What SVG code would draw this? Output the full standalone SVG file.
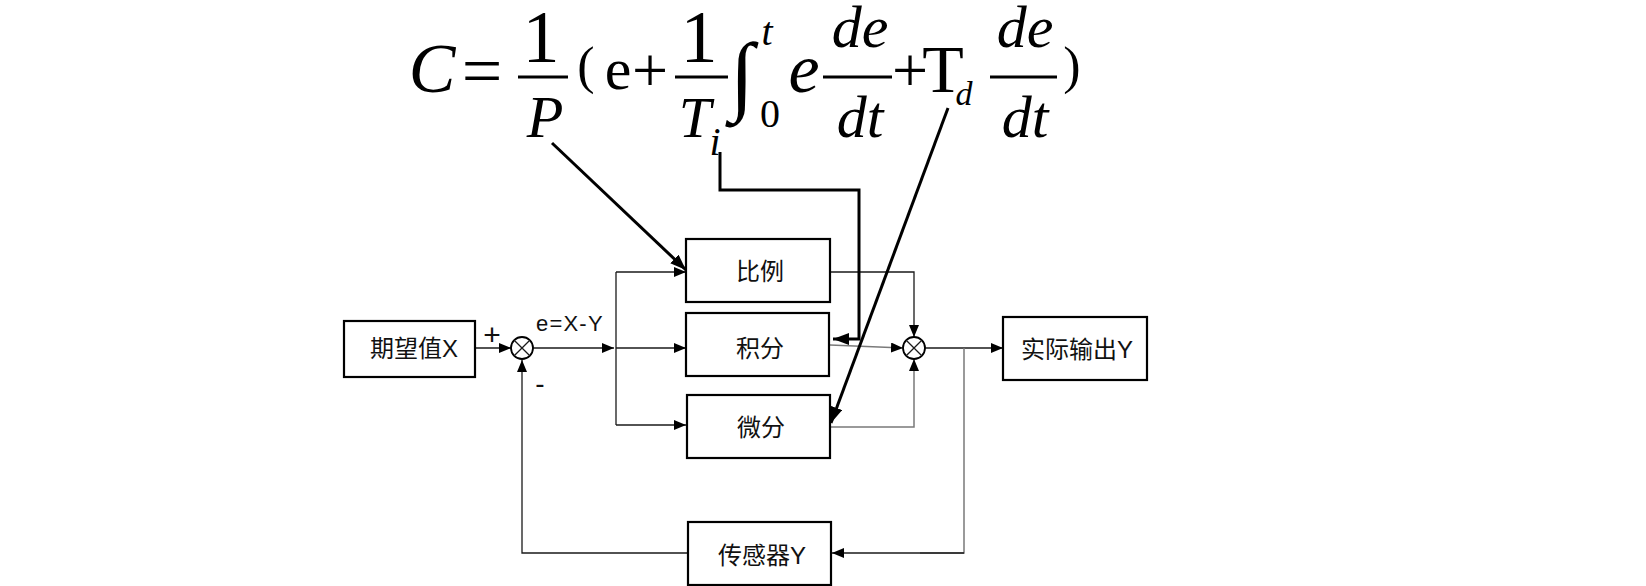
<svg xmlns="http://www.w3.org/2000/svg" width="1646" height="586" viewBox="0 0 1646 586">
<style>
.box{fill:#fff;stroke:#000;stroke-width:2.2}
.lbl{font-family:"Liberation Sans","Noto Sans CJK SC",sans-serif;font-size:24px;fill:#111;text-anchor:middle}
.thin{fill:none;stroke:#1a1a1a;stroke-width:1.3}
.gray{fill:none;stroke:#7a7a7a;stroke-width:1.5}
.thick{fill:none;stroke:#000;stroke-width:3}
.sum{fill:#fff;stroke:#000;stroke-width:1.8}
.fm{font-family:"Liberation Serif",serif;fill:#000;text-anchor:middle}
.it{font-style:italic}
.bar{stroke:#000;stroke-width:3}
.sign{font-family:"Liberation Sans",sans-serif;fill:#111}
</style>
<defs>
<marker id="a" markerUnits="userSpaceOnUse" markerWidth="12" markerHeight="10" refX="12" refY="5" orient="auto"><path d="M0,0 L12,5 L0,10 z" fill="#000"/></marker>
<marker id="b" markerUnits="userSpaceOnUse" markerWidth="16" markerHeight="12" refX="16" refY="6" orient="auto"><path d="M0,0 L16,6 L0,12 z" fill="#000"/></marker>
</defs>

<g id="formula">
<text class="fm it" x="432" y="92" font-size="70">C</text>
<text class="fm" x="482" y="95" font-size="72">=</text>
<text class="fm" x="541" y="62" font-size="74">1</text>
<line class="bar" x1="518" y1="77" x2="568" y2="77"/>
<text class="fm it" x="545" y="137" font-size="60">P</text>
<text class="fm" x="586" y="83" font-size="52">(</text>
<text class="fm" x="618" y="89" font-size="60">e</text>
<text class="fm" x="650" y="92" font-size="64">+</text>
<text class="fm" x="699" y="62" font-size="74">1</text>
<line class="bar" x1="675" y1="77" x2="728" y2="77"/>
<text class="fm it" x="695" y="137" font-size="58">T</text>
<text class="fm it" x="715" y="155" font-size="40">i</text>
<text class="fm it" x="742" y="104" font-size="88">∫</text>
<text class="fm it" x="767" y="45" font-size="40">t</text>
<text class="fm" x="770" y="127" font-size="40">0</text>
<text class="fm it" x="804" y="92" font-size="70">e</text>
<text class="fm it" x="860" y="47" font-size="60">de</text>
<line class="bar" x1="823" y1="77" x2="892" y2="77"/>
<text class="fm it" x="860" y="137" font-size="60">dt</text>
<text class="fm" x="910" y="92" font-size="64">+</text>
<text class="fm" x="943" y="92" font-size="68">T</text>
<text class="fm it" x="964" y="105" font-size="34">d</text>
<text class="fm it" x="1025" y="47" font-size="60">de</text>
<line class="bar" x1="990" y1="77" x2="1057" y2="77"/>
<text class="fm it" x="1025" y="137" font-size="60">dt</text>
<text class="fm" x="1072" y="83" font-size="52">)</text>
</g>

<g id="connectors">
<line class="thin" x1="475" y1="348" x2="511" y2="348" marker-end="url(#a)"/>
<line class="thin" x1="533" y1="348" x2="614" y2="348" marker-end="url(#a)"/>
<line class="thin" x1="616" y1="272" x2="616" y2="425"/>
<line class="thin" x1="616" y1="272" x2="686" y2="272" marker-end="url(#a)"/>
<line class="thin" x1="616" y1="348" x2="686" y2="348" marker-end="url(#a)"/>
<line class="thin" x1="616" y1="425" x2="686" y2="425" marker-end="url(#a)"/>
<polyline class="thin" points="830,272 914,272 914,337" marker-end="url(#a)"/>
<line class="gray" x1="830" y1="345" x2="903" y2="348" marker-end="url(#a)"/>
<polyline class="gray" points="830,427 914,427 914,359" marker-end="url(#a)"/>
<line class="thin" x1="925" y1="348" x2="1003" y2="348" marker-end="url(#a)"/>
<polyline class="gray" points="964,348 964,553 920,553"/>
<line class="thin" x1="964" y1="553" x2="832" y2="553" marker-end="url(#a)"/>
<polyline class="thin" points="688,553 522,553 522,360" marker-end="url(#a)"/>
<line class="thick" x1="552" y1="143" x2="686" y2="270" marker-end="url(#b)"/>
<polyline class="thick" points="720,152 720,190 859,190 859,339 833,339" marker-end="url(#b)"/>
<line class="thick" x1="948" y1="108" x2="831" y2="423" marker-end="url(#b)"/>
</g>

<g id="node-expect"><rect class="box" x="344" y="321" width="131" height="56"/><text class="lbl" x="414" y="357">期望值X</text></g>
<g id="node-sum1"><circle class="sum" cx="522" cy="348" r="11"/><path class="thin" d="M514.2,340.2 L529.8,355.8 M529.8,340.2 L514.2,355.8" stroke-width="1.6"/></g>
<text class="sign" x="492" y="345" font-size="30" text-anchor="middle">+</text>
<text class="sign" x="540" y="393" font-size="28" text-anchor="middle">-</text>
<text class="sign" x="536" y="331" font-size="22" letter-spacing="1.2">e=X-Y</text>
<g id="node-p"><rect class="box" x="686" y="239" width="144" height="63"/><text class="lbl" x="760" y="280">比例</text></g>
<g id="node-i"><rect class="box" x="686" y="313" width="143" height="63"/><text class="lbl" x="760" y="357">积分</text></g>
<g id="node-d"><rect class="box" x="687" y="395" width="143" height="63"/><text class="lbl" x="761" y="436">微分</text></g>
<g id="node-sum2"><circle class="sum" cx="914" cy="348" r="11"/><path class="thin" d="M906.2,340.2 L921.8,355.8 M921.8,340.2 L906.2,355.8" stroke-width="1.6"/></g>
<g id="node-out"><rect class="box" x="1003" y="317" width="144" height="63"/><text class="lbl" x="1077" y="358">实际输出Y</text></g>
<g id="node-sensor"><rect class="box" x="688" y="522" width="143" height="63"/><text class="lbl" x="762" y="564">传感器Y</text></g>
</svg>
